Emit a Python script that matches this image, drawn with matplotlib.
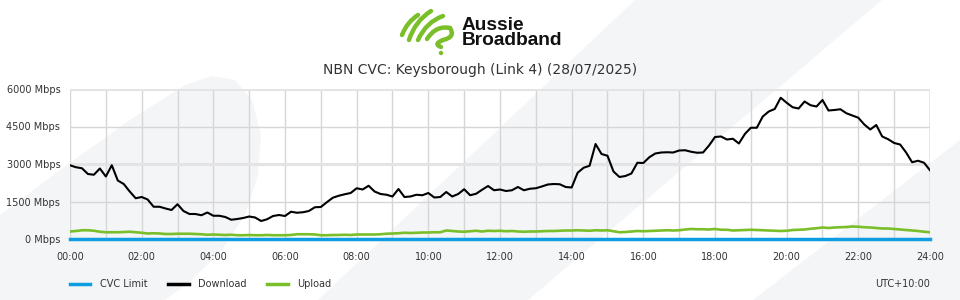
import numpy as np
import matplotlib.pyplot as plt
from matplotlib.path import Path
from matplotlib.patches import PathPatch, Polygon, Circle
from matplotlib.lines import Line2D

# Download / upload in Mbps, one value every 10 minutes from 00:00 to 24:00
download = [
    2950, 2870, 2830, 2600, 2570, 2820,
    2500, 2950, 2340, 2200, 1900, 1630,
    1680, 1580, 1290, 1290, 1220, 1160,
    1390, 1120, 1000, 1000, 950, 1060,
    930, 930, 880, 770, 800, 840,
    900, 860, 720, 790, 920, 960,
    920, 1090, 1050, 1070, 1120, 1270,
    1280, 1470, 1650, 1730, 1790, 1840,
    2030, 1980, 2130, 1900, 1800, 1770,
    1700, 2000, 1680, 1700, 1770, 1750,
    1840, 1660, 1680, 1880, 1700, 1800,
    1990, 1750, 1810, 1970, 2120, 1950,
    1980, 1920, 1950, 2080, 1950, 2010,
    2030, 2100, 2180, 2200, 2190, 2080,
    2060, 2650, 2850, 2930, 3800, 3400,
    3330, 2700, 2480, 2520, 2620, 3050,
    3040, 3270, 3420, 3460, 3470, 3460,
    3540, 3550, 3490, 3450, 3460, 3740,
    4080, 4100, 3980, 4010, 3820, 4200,
    4450, 4450, 4900, 5100, 5200, 5650,
    5450, 5270, 5220, 5500, 5350, 5300,
    5560, 5140, 5160, 5190, 5030, 4940,
    4850, 4580, 4380, 4560, 4100, 3990,
    3840, 3780, 3460, 3070, 3130, 3050,
    2750,
]
upload = [
    300, 320, 350, 350, 330, 290,
    270, 270, 270, 280, 290, 270,
    250, 220, 230, 220, 200, 200,
    210, 210, 210, 200, 190, 170,
    180, 170, 160, 170, 150, 150,
    160, 150, 150, 160, 150, 150,
    150, 160, 190, 190, 190, 180,
    150, 150, 160, 160, 170, 160,
    180, 180, 180, 180, 190, 210,
    220, 230, 250, 240, 250, 260,
    260, 270, 270, 340, 320, 300,
    290, 310, 330, 300, 330, 320,
    330, 310, 320, 300, 290, 300,
    300, 310, 320, 320, 330, 340,
    340, 350, 340, 330, 350, 340,
    350, 310, 270, 280, 300, 320,
    310, 320, 330, 340, 350, 340,
    350, 380, 400, 390, 390, 380,
    400, 370, 370, 340, 350, 360,
    370, 360, 350, 340, 330, 320,
    330, 360, 370, 380, 410, 430,
    460, 440, 460, 470, 480, 500,
    490, 470, 460, 440, 420, 420,
    400, 380, 360, 340, 320, 290,
    270,
]
cvc_limit = [0] * len(download)
hours = np.arange(len(download)) / 6.0

y_ticks = [0, 1500, 3000, 4500, 6000]
y_labels = ["0 Mbps", "1500 Mbps", "3000 Mbps", "4500 Mbps", "6000 Mbps"]
x_ticks = list(range(0, 25, 2))
x_labels = ["%02d:00" % h for h in x_ticks]

BLUE = "#0d9de0"
GREEN = "#7abf29"
GREY_BG = "#f4f5f7"
TXT = "#333333"

fig = plt.figure(figsize=(9.6, 3), dpi=100)

# background layer in pixel coords
bg = fig.add_axes([0, 0, 1, 1], zorder=-1)
bg.set_xlim(0, 960)
bg.set_ylim(300, 0)
bg.axis("off")
swoosh = [(0, 300), (0, 215), (60, 170), (130, 120), (185, 85), (212, 76), (235, 80),
          (252, 100), (261, 135), (258, 175), (245, 215), (222, 250), (192, 280), (165, 300)]
bg.add_patch(Polygon(swoosh, closed=True, fc=GREY_BG, ec="none"))
bg.add_patch(Polygon([(318, 300), (635, 0), (882, 0), (528, 300)], closed=True, fc=GREY_BG, ec="none"))
bg.add_patch(Polygon([(960, 140), (753, 300), (960, 300)], closed=True, fc=GREY_BG, ec="none"))

# logo
strokes = [
    [(402, 35), (407, 22), (418, 15)],
    [(409, 40), (415, 21), (431, 11)],
    [(418, 40), (426, 22), (443, 16)],
    [(427, 39), (436, 25), (450, 28)],
    [(450, 28), (456, 37), (443, 40)],
    [(443, 40), (433, 44), (441, 47)],
]
for s in strokes:
    p = Path(s, [Path.MOVETO, Path.CURVE3, Path.CURVE3])
    bg.add_patch(PathPatch(p, fc="none", ec=GREEN, lw=3.2, capstyle="round"))
bg.add_patch(Circle((441, 53), 2.2, fc=GREEN, ec="none"))
bg.text(462, 17, "Aussie\nBroadband", fontsize=13.8, fontweight="bold",
        family="Liberation Sans", color="#111111", va="top", ha="left", linespacing=0.84)

# main chart
ax = fig.add_axes([70 / 960, 61 / 300, 860 / 960, 150 / 300])
ax.set_facecolor("none")
ax.set_xlim(0, 24)
ax.set_ylim(0, 6000)
for s in ax.spines.values():
    s.set_visible(False)

for h in range(0, 25):
    ax.axvline(h, color="#d6d6d6" if h < 24 else "#e4e4e4", lw=1 if h < 24 else 2, zorder=0)
for v in y_ticks[1:]:
    thick = v in (3000, 6000)
    ax.axhline(v, color="#e4e4e4" if thick else "#d6d6d6", lw=2.2 if thick else 1, zorder=0)

ax.plot(hours, upload, color=GREEN, lw=1.9, label="Upload", zorder=3)
ax.plot(hours, download, color="black", lw=1.5, label="Download", zorder=4)
ax.plot(hours, cvc_limit, color=BLUE, lw=2.5, label="CVC Limit", zorder=5, clip_on=False)

ax.set_xticks(x_ticks)
ax.set_xticklabels(x_labels)
ax.set_yticks(y_ticks)
ax.set_yticklabels(y_labels)
ax.tick_params(axis="both", length=0, labelsize=7, labelcolor=TXT)
ax.tick_params(axis="x", pad=9)
ax.tick_params(axis="y", pad=7)

fig.text(0.5, 1 - 70 / 300, "NBN CVC: Keysborough (Link 4) (28/07/2025)",
         ha="center", va="center", fontsize=10, color=TXT)

handles = [Line2D([], [], color=BLUE, lw=2.5),
           Line2D([], [], color="black", lw=2.5),
           Line2D([], [], color=GREEN, lw=2.5)]
fig.legend(handles, ["CVC Limit", "Download", "Upload"], loc="center left",
           bbox_to_anchor=(70 / 960, 16 / 300), ncol=3, frameon=False, fontsize=7,
           handlelength=2.1, handletextpad=1.0, columnspacing=2.1,
           borderpad=0, borderaxespad=0, labelcolor=TXT)
fig.text(930 / 960, 16 / 300, "UTC+10:00", ha="right", va="center", fontsize=7, color=TXT)

fig.savefig("out.png", dpi=100)
